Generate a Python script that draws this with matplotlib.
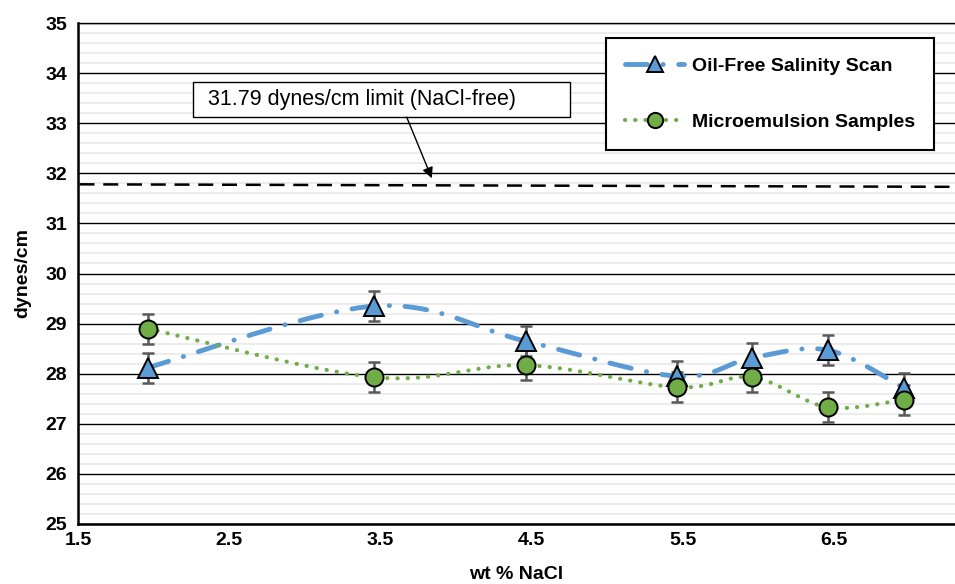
import matplotlib

matplotlib.use("Agg")
import matplotlib.pyplot as plt
import numpy as np
from matplotlib.patches import Rectangle

plt.rcParams["font.family"] = ["Liberation Sans", "DejaVu Sans"]

# wt % NaCl for each sample
nacl = [1.96, 3.46, 4.46, 5.46, 5.96, 6.46, 6.96]
oil_free = [28.12, 29.35, 28.65, 27.95, 28.32, 28.47, 27.72]
micro = [28.90, 27.93, 28.17, 27.73, 27.93, 27.33, 27.48]
err_oil_free = [0.3, 0.3, 0.3, 0.3, 0.3, 0.3, 0.3]
err_micro = [0.3, 0.3, 0.3, 0.3, 0.3, 0.3, 0.3]

limit_x = [1.51, 7.3]
limit_y = [31.78, 31.73]
limit_label = "31.79 dynes/cm limit (NaCl-free)"

x_ticks = [1.5, 2.5, 3.5, 4.5, 5.5, 6.5]
y_ticks = [25, 26, 27, 28, 29, 30, 31, 32, 33, 34, 35]

BLUE = "#5B9BD5"
GREEN = "#70AD47"
ERR = "#595959"
FS = 14


def smooth(xs, ys, n=40):
    # bezier smoothing like excel's "smoothed line"
    p = np.column_stack([xs, ys]).astype(float)
    pts = [p[0]]
    for i in range(len(p) - 1):
        p0 = p[i - 1] if i > 0 else p[i]
        p3 = p[i + 2] if i + 2 < len(p) else p[i + 1]
        c1 = p[i] + (p[i + 1] - p0) / 6.0
        c2 = p[i + 1] - (p3 - p[i]) / 6.0
        t = np.linspace(0, 1, n)[1:, None]
        seg = ((1 - t) ** 3) * p[i] + 3 * ((1 - t) ** 2) * t * c1 + 3 * (1 - t) * t ** 2 * c2 + t ** 3 * p[i + 1]
        pts.extend(seg)
    pts = np.array(pts)
    return pts[:, 0], pts[:, 1]


fig = plt.figure(figsize=(9.55, 5.84), dpi=100)
ax = fig.add_axes([78 / 955, 60 / 584, 877 / 955, 501 / 584])

ax.set_xlim(1.5, 7.3)
ax.set_ylim(25, 35)

# grid
ax.set_yticks(y_ticks)
ax.set_yticks(np.arange(25, 35.01, 0.2), minor=True)
ax.yaxis.grid(True, which="minor", color="#EBEBEB", linewidth=1.3)
ax.yaxis.grid(True, which="major", color="black", linewidth=1.0)
ax.set_axisbelow(True)
ax.set_xticks(x_ticks)
ax.set_xticklabels([f"{v:.1f}" for v in x_ticks])

ax.spines["right"].set_visible(False)
ax.spines["top"].set_linewidth(1.0)
ax.spines["left"].set_linewidth(1.8)
ax.spines["bottom"].set_linewidth(1.8)
ax.tick_params(axis="both", which="both", length=0, labelsize=FS)
ax.tick_params(axis="y", pad=8)
ax.tick_params(axis="x", pad=6)
for lab in ax.get_xticklabels() + ax.get_yticklabels():
    lab.set_fontweight("bold")

# limit line + callout box
ax.plot(limit_x, limit_y, color="black", linewidth=1.8, linestyle=(0, (6, 3.5)), zorder=3)
ax.add_patch(Rectangle((0.1311, 0.8124), 0.4299, 0.0706, transform=ax.transAxes,
                       facecolor="white", edgecolor="black", linewidth=1.0, zorder=6))
ax.text(0.1482, 0.847, limit_label, transform=ax.transAxes, ha="left", va="center",
        fontsize=15.5, zorder=7)
ax.annotate("", xy=(3.84, 31.9), xytext=(3.674, 33.12),
            arrowprops=dict(arrowstyle="-|>", color="black", linewidth=1.0,
                            mutation_scale=16, shrinkA=0, shrinkB=0),
            zorder=6)

# smoothed series lines
blue_ls = (0, (4.5, 3.2, 0.05, 3.2))
green_ls = (0, (0.05, 2.4))
sx, sy = smooth(nacl, oil_free)
ax.plot(sx, sy, color=BLUE, linewidth=3.5, linestyle=blue_ls, dash_capstyle="round", zorder=3)
gx, gy = smooth(nacl, micro)
ax.plot(gx, gy, color=GREEN, linewidth=3.0, linestyle=green_ls, dash_capstyle="round", zorder=3)

# error bars
ax.errorbar(nacl, oil_free, yerr=err_oil_free, fmt="none", ecolor=ERR, elinewidth=1.8,
            capsize=4, capthick=1.8, zorder=4)
ax.errorbar(nacl, micro, yerr=err_micro, fmt="none", ecolor=ERR, elinewidth=1.8,
            capsize=4, capthick=1.8, zorder=4)

# markers
ax.plot(nacl, oil_free, linestyle="none", marker="^", markersize=14, markerfacecolor=BLUE,
        markeredgecolor="black", markeredgewidth=1.4, zorder=5)
ax.plot(nacl, micro, linestyle="none", marker="o", markersize=13, markerfacecolor=GREEN,
        markeredgecolor="black", markeredgewidth=1.4, zorder=5)

# legend proxies
h1, = ax.plot([], [], color=BLUE, linewidth=3.5, linestyle=blue_ls, dash_capstyle="round",
              marker="^", markersize=11, markerfacecolor=BLUE,
              markeredgecolor="black", markeredgewidth=1.4)
h2, = ax.plot([], [], color=GREEN, linewidth=3.0, linestyle=green_ls, dash_capstyle="round",
              marker="o", markersize=11, markerfacecolor=GREEN,
              markeredgecolor="black", markeredgewidth=1.4)
leg = ax.legend(
    [h1, h2],
    ["Oil-Free Salinity Scan", "Microemulsion Samples"],
    loc="upper left",
    bbox_to_anchor=(0.602, 0.970),
    prop={"weight": "bold", "size": FS},
    frameon=True,
    fancybox=False,
    edgecolor="black",
    framealpha=1,
    handlelength=3.0,
    handletextpad=0.4,
    borderpad=1.0,
    labelspacing=1.95,
    borderaxespad=0,
    numpoints=1,
)
leg.get_frame().set_linewidth(1.5)
leg.set_zorder(8)

ax.set_xlabel("wt % NaCl", fontsize=FS, fontweight="bold", labelpad=12)
ax.set_ylabel("dynes/cm", fontsize=FS, fontweight="bold", labelpad=10)

fig.savefig("out.png", dpi=100)
